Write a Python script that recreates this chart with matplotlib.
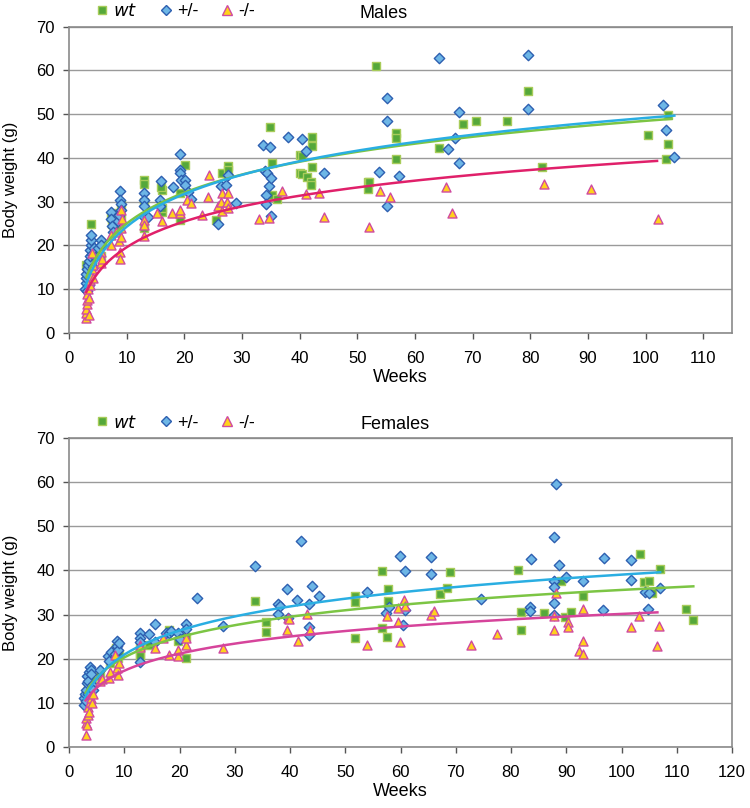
import numpy as np
import matplotlib
matplotlib.use('Agg')
import matplotlib.pyplot as plt
from matplotlib.lines import Line2D

plt.rcParams['font.family'] = ['Liberation Sans', 'DejaVu Sans']

# ---- Males ----
m_wt_weeks = [2.9, 3.1, 3.3, 3.9, 4.0, 4.2, 5.5, 7.3, 7.5, 8.3, 8.6, 9.0, 9.0,
              13.0, 13.0, 13.0, 13.0, 16.1, 16.0, 16.2, 16.2, 19.3, 19.2, 20.2, 25.5,
              26.6, 27.6, 27.6, 34.8, 35.2, 35.2, 36.1, 40.0, 40.0, 40.5, 40.5, 41.3,
              42.0, 42.0, 42.2, 42.2, 42.2, 51.8, 52.1, 51.8, 53.2, 56.7, 56.7, 56.7,
              64.1, 68.3, 70.6, 75.9, 79.7, 82.0, 100.5, 103.6, 103.9, 103.9]
m_wt_vals = [15.6, 14.0, 12.5, 24.9, 16.5, 19.0, 17.5, 26.5, 25.0, 27.5, 24.0, 29.5, 26.0,
             35.0, 34.0, 24.0, 30.0, 32.7, 33.3, 27.7, 28.5, 25.9, 31.9, 38.3, 25.9,
             36.6, 38.2, 37.3, 47.0, 38.8, 31.5, 30.6, 40.7, 36.5, 40.5, 36.3, 35.7,
             34.4, 33.8, 44.7, 42.8, 38.0, 34.4, 34.5, 32.9, 60.9, 45.6, 44.5, 39.7,
             42.2, 47.8, 48.5, 48.5, 55.4, 38.0, 45.3, 39.7, 43.1, 49.8]

m_het_weeks = [2.8, 2.9, 3.0, 3.0, 3.1, 3.2, 3.3, 3.4, 3.5, 3.6, 3.7, 3.8, 3.9, 3.9,
               4.0, 4.1, 4.3, 5.0, 5.6, 5.6, 7.2, 7.3, 7.4, 7.6, 8.5, 8.7, 8.9, 8.9,
               9.0, 9.1, 13.0, 13.0, 13.0, 13.0, 13.7, 15.7, 15.7, 16.0, 18.0, 19.2,
               19.2, 19.2, 19.4, 20.2, 20.2, 20.6, 21.2, 25.8, 26.4, 27.3, 27.6, 29.0,
               33.6, 34.0, 34.3, 34.8, 34.7, 35.1, 34.1, 34.1, 35.1, 37.9, 40.5, 41.1,
               44.2, 53.8, 55.2, 55.2, 55.2, 57.2, 64.1, 65.8, 67.0, 67.6, 67.6, 79.7,
               79.7, 103.0, 103.6, 105.0]
m_het_vals = [10.0, 11.5, 12.5, 13.5, 9.5, 14.5, 15.5, 11.0, 16.5, 17.5, 19.0, 20.0, 21.2, 22.4,
              18.0, 15.0, 19.5, 19.5, 21.2, 20.0, 27.7, 26.0, 24.5, 23.0, 25.5, 27.0, 32.4, 30.4,
              29.5, 28.0, 31.9, 30.4, 28.9, 26.6, 26.6, 30.4, 28.9, 34.8, 33.4, 40.9,
              37.3, 36.5, 35.0, 35.0, 33.8, 32.3, 30.6, 24.9, 33.6, 33.8, 36.1, 29.6,
              43.0, 36.9, 36.5, 42.6, 33.6, 35.5, 31.5, 29.5, 26.8, 44.7, 44.4, 41.5,
              36.5, 36.8, 53.8, 48.5, 28.9, 35.9, 62.8, 42.1, 44.5, 50.6, 38.9, 63.6,
              51.1, 52.1, 46.3, 40.3]

m_ko_weeks = [2.9, 3.0, 3.0, 3.1, 3.2, 3.2, 3.3, 3.4, 3.5, 3.6, 3.7, 3.9, 4.0, 4.0,
              4.1, 4.2, 5.6, 5.6, 5.8, 7.3, 7.3, 8.2, 8.7, 8.8, 8.9, 9.0, 9.0, 9.1,
              9.2, 13.0, 13.0, 13.0, 15.2, 16.2, 17.9, 19.2, 19.2, 20.4, 21.2, 23.1,
              24.1, 24.3, 25.9, 26.4, 26.6, 26.6, 27.4, 27.6, 27.6, 32.9, 34.7, 36.9,
              41.1, 43.3, 44.2, 52.1, 54.0, 55.6, 65.4, 66.4, 82.4, 90.5, 102.1]
m_ko_vals = [3.5, 4.5, 5.5, 6.5, 7.5, 9.0, 10.0, 4.0, 8.0, 11.0, 12.0, 13.0, 14.5, 18.2,
             12.5, 15.5, 18.5, 15.9, 17.0, 22.4, 20.2, 23.1, 21.0, 18.5, 17.0, 28.2, 24.0, 22.0,
             26.0, 25.8, 24.7, 22.1, 27.3, 25.6, 27.3, 27.3, 28.0, 30.4, 29.6, 26.9,
             31.1, 36.1, 28.9, 30.0, 31.9, 27.9, 30.0, 31.9, 28.5, 26.0, 26.2, 32.5,
             31.7, 31.9, 26.4, 24.1, 32.4, 31.1, 33.4, 27.3, 34.0, 32.9, 26.0]

# ---- Females ----
f_wt_weeks = [2.9, 3.2, 3.5, 3.8, 4.1, 5.6, 7.5, 8.3, 8.5, 8.9, 9.0, 12.9, 12.9, 12.9,
              14.4, 18.1, 19.7, 21.2, 21.2, 33.6, 35.7, 35.7, 51.7, 51.8, 51.8, 56.6,
              56.7, 57.6, 57.7, 57.7, 67.2, 68.5, 68.9, 81.3, 81.8, 81.8, 86.0, 89.0,
              89.7, 90.8, 93.0, 103.3, 104.1, 104.9, 105.5, 106.9, 111.7, 112.9]
f_wt_vals = [11.0, 12.5, 14.0, 13.0, 15.0, 16.0, 19.0, 22.0, 22.4, 20.1, 21.0, 22.6, 21.1, 20.5,
             23.0, 26.5, 24.0, 20.1, 24.9, 33.0, 28.3, 26.0, 24.8, 34.3, 32.8, 26.9,
             39.8, 25.0, 35.8, 33.1, 34.6, 36.1, 39.6, 40.1, 30.5, 26.4, 30.3, 37.5,
             29.4, 30.6, 34.2, 43.7, 37.3, 37.6, 34.8, 40.4, 31.2, 28.8]

f_het_weeks = [2.7, 2.8, 2.9, 3.0, 3.1, 3.2, 3.3, 3.4, 3.5, 3.6, 3.8, 3.9, 4.0, 4.1,
               4.3, 5.6, 7.0, 7.3, 7.6, 8.4, 8.7, 8.7, 8.9, 9.0, 12.9, 12.9, 12.9, 12.9,
               14.4, 15.5, 15.5, 17.5, 18.1, 18.4, 19.7, 20.0, 21.1, 21.1, 23.1, 27.9,
               33.6, 37.8, 37.8, 38.2, 39.5, 39.7, 41.3, 42.0, 43.4, 43.4, 43.4, 43.9,
               45.3, 53.9, 57.4, 58.0, 59.9, 60.4, 60.8, 60.8, 65.5, 65.5, 74.6, 83.5,
               83.5, 83.7, 87.7, 87.7, 87.7, 87.7, 87.7, 88.1, 88.6, 90.0, 93.0, 96.6,
               96.8, 101.8, 101.8, 104.3, 104.8, 105.0, 106.9]
f_het_vals = [9.5, 11.0, 12.0, 10.5, 13.0, 14.5, 16.0, 15.0, 12.0, 17.0, 18.2, 17.5, 16.5, 14.0,
              13.0, 17.5, 20.6, 19.5, 21.5, 21.0, 24.0, 22.8, 22.0, 23.5, 25.9, 24.8, 23.7, 19.3,
              25.5, 27.9, 23.7, 25.8, 25.8, 26.2, 25.9, 24.5, 27.9, 26.7, 33.7, 27.3,
              40.9, 32.4, 30.2, 32.0, 35.8, 29.2, 33.3, 46.7, 32.3, 27.1, 25.4, 36.4,
              34.2, 35.2, 30.3, 31.8, 43.3, 27.7, 39.8, 31.1, 43.1, 39.2, 33.6, 31.7,
              30.8, 42.6, 47.5, 37.5, 36.2, 32.7, 29.9, 59.6, 41.3, 38.6, 37.5, 31.1,
              42.9, 42.4, 37.9, 35.1, 31.3, 34.8, 36.0]

f_ko_weeks = [3.1, 3.0, 3.1, 3.3, 3.4, 3.5, 3.6, 3.8, 4.0, 4.2, 4.3, 5.6, 5.9, 7.2,
              7.4, 8.3, 8.6, 8.9, 9.0, 12.9, 12.9, 15.5, 17.1, 18.1, 19.7, 19.7, 21.2,
              21.2, 27.8, 39.4, 39.6, 39.9, 41.5, 43.1, 43.6, 53.9, 57.6, 59.6, 59.6,
              59.9, 60.7, 60.8, 65.6, 66.0, 72.7, 77.4, 87.7, 87.8, 88.1, 90.4, 90.4,
              92.3, 93.0, 93.0, 93.0, 101.8, 103.2, 106.5, 106.7]
f_ko_vals = [2.7, 5.5, 6.5, 5.0, 7.3, 9.1, 8.0, 10.3, 11.0, 10.0, 12.0, 15.0, 15.5, 15.6,
             17.0, 20.9, 17.8, 16.3, 19.0, 23.1, 22.6, 22.4, 24.6, 20.9, 20.5, 22.0, 23.1,
             24.6, 22.4, 26.4, 29.2, 29.0, 23.9, 30.1, 26.4, 23.1, 29.6, 31.4, 28.2,
             23.8, 33.3, 32.0, 29.9, 30.7, 23.1, 25.6, 29.7, 26.4, 34.8, 28.4, 27.1,
             21.8, 31.2, 24.1, 21.1, 27.1, 29.6, 22.8, 27.4]

# log trendlines (y = a*ln(x) + b), coefficients and spans
m_trend = {'wt': (10.2, 1.5, 3.0, 104.5), 'het': (10.8, -0.6, 2.8, 105.0), 'ko': (8.5, 0.0, 3.0, 102.0)}
f_trend = {'wt': (6.64, 5.0, 3.0, 113.0), 'het': (7.87, 2.8, 2.8, 107.0), 'ko': (5.59, 4.4, 3.0, 106.5)}

GRID = '#9a9a9a'
styles = {
    'wt':  dict(marker='s', fc='#55a83a', ec='#a8cc5a', s=36),
    'het': dict(marker='D', fc='#6db6e6', ec='#2d5fb0', s=28),
    'ko':  dict(marker='^', fc='#ffd21c', ec='#d04aa0', s=42),
}


def draw_panel(ax, data, trend, line_colors, xmax, xticks, title, title_x, fig):
    for key in ('wt', 'het', 'ko'):
        x, y = data[key]
        st = styles[key]
        ax.scatter(x, y, marker=st['marker'], s=st['s'], facecolor=st['fc'],
                   edgecolor=st['ec'], linewidth=1.0, zorder=3)
    for key in ('wt', 'het', 'ko'):
        a, b, x0, x1 = trend[key]
        xs = np.linspace(x0, x1, 200)
        ax.plot(xs, a * np.log(xs) + b, color=line_colors[key], lw=1.8, zorder=4)

    ax.set_xlim(0, xmax)
    ax.set_ylim(0, 70)
    ax.set_xticks(xticks)
    ax.set_yticks(range(0, 71, 10))
    ax.yaxis.grid(True, color=GRID, lw=1.0)
    ax.set_axisbelow(True)
    for sp in ax.spines.values():
        sp.set_color('#8a8a8a')
        sp.set_linewidth(1.2)
    ax.tick_params(axis='both', labelsize=12, color='#555555', length=4, width=1)
    ax.tick_params(axis='x', pad=9)
    ax.tick_params(axis='y', pad=6)
    ax.set_xlabel('Weeks', fontsize=13, labelpad=2)
    ax.set_ylabel('Body weight (g)', fontsize=12, labelpad=13)

    handles = [
        Line2D([], [], ls='none', marker='s', ms=6, mfc=styles['wt']['fc'], mec=styles['wt']['ec']),
        Line2D([], [], ls='none', marker='D', ms=5.5, mfc=styles['het']['fc'], mec=styles['het']['ec']),
        Line2D([], [], ls='none', marker='^', ms=6.5, mfc=styles['ko']['fc'], mec=styles['ko']['ec']),
    ]
    ax.legend(handles, ['$\\mathit{wt}$', '+/-', '-/-'], ncol=3, frameon=False,
              loc='lower left', bbox_to_anchor=(0.02, 0.985), fontsize=13,
              handletextpad=0.1, columnspacing=1.1, handlelength=1.0, borderpad=0.1)
    pos = ax.get_position()
    fig.text(title_x, pos.y1 + 0.006, title, ha='center', va='bottom', fontsize=13)


fig = plt.figure(figsize=(7.5, 8.08), dpi=100)
ax1 = fig.add_axes([0.092, 0.588, 0.884, 0.379])
ax2 = fig.add_axes([0.092, 0.0755, 0.884, 0.3825])

draw_panel(ax1,
           {'wt': (m_wt_weeks, m_wt_vals), 'het': (m_het_weeks, m_het_vals), 'ko': (m_ko_weeks, m_ko_vals)},
           m_trend, {'wt': '#7cc544', 'het': '#2aaee2', 'ko': '#e0206a'},
           115, range(0, 111, 10), 'Males', 384 / 750, fig)
draw_panel(ax2,
           {'wt': (f_wt_weeks, f_wt_vals), 'het': (f_het_weeks, f_het_vals), 'ko': (f_ko_weeks, f_ko_vals)},
           f_trend, {'wt': '#7cc544', 'het': '#2aaee2', 'ko': '#d6449b'},
           120, range(0, 121, 10), 'Females', 395 / 750, fig)

fig.savefig('out.png', dpi=100)
